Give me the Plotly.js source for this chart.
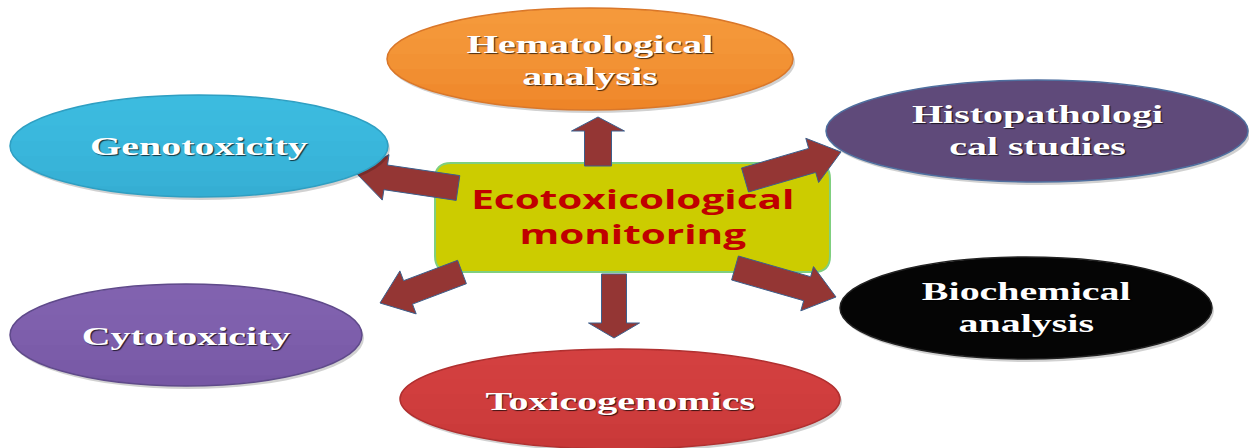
<!DOCTYPE html>
<html>
<head>
<meta charset="utf-8">
<script src="https://cdn.plot.ly/plotly-3.0.1.min.js"></script>
<style>html,body{margin:0;padding:0;background:#fff;}#chart{width:1249px;height:448px;}</style>
</head>
<body>
<div id="chart"></div>
<script>
// ---- content ----
const centerLabel = 'Ecotoxicological<br>monitoring';
const nodeLabels = ['Hematological<br>analysis', 'Genotoxicity', 'Histopathologi<br>cal studies',
                    'Cytotoxicity', 'Toxicogenomics', 'Biochemical<br>analysis'];

// ---- geometry (diagram layout, pixel-like axis units) ----
const nodeCx = [590, 199, 1037, 186, 620, 1026];
const nodeCy = [59, 146, 131, 335, 399, 308];
const nodeRx = [203, 189, 211, 176, 220, 186];
const nodeRy = [51, 51, 51, 51, 50, 51];
const nodeFill = ['#ee8528', '#35aed3', '#5f4a7a', '#7657a4', '#c83838', '#050505'];
const nodeTop  = ['#fba445', '#42c4e8', '#5f4a7a', '#8868b6', '#de4848', '#050505'];
const nodeLine = ['#d9772a', '#2f9fc2', '#4f6f9f', '#5f4a8a', '#b03030', '#222222'];
const labelCy = [61, 146, 131, 336, 401, 308];

const box = {x0: 435, x1: 830, y0: 163, y1: 272, r: 16};

// arrows: tail -> tip
const arrowTailX = [598, 614, 458, 745, 462, 735];
const arrowTailY = [166, 274, 188, 180, 272, 268];
const arrowTipX  = [598, 614, 356, 841, 380, 836];
const arrowTipY  = [117, 338, 173, 152, 303, 297];
const arrowShaftW = [27, 25, 25, 25, 25, 25];
const arrowHeadW  = [53, 51, 46, 46, 46, 46];
const arrowHeadL  = [14, 15, 30, 30, 30, 30];

function arrowPath(tx, ty, px, py, sw, hw, hl) {
  const dx = px - tx, dy = py - ty;
  const L = Math.hypot(dx, dy);
  const ux = dx / L, uy = dy / L;
  const nx = -uy, ny = ux;
  const bx = px - ux * hl, by = py - uy * hl;
  const p = [
    [tx + nx * sw / 2, ty + ny * sw / 2],
    [bx + nx * sw / 2, by + ny * sw / 2],
    [bx + nx * hw / 2, by + ny * hw / 2],
    [px, py],
    [bx - nx * hw / 2, by - ny * hw / 2],
    [bx - nx * sw / 2, by - ny * sw / 2],
    [tx - nx * sw / 2, ty - ny * sw / 2]
  ];
  return 'M' + p.map(q => q[0].toFixed(1) + ',' + q[1].toFixed(1)).join(' L') + ' Z';
}

function roundRect(b) {
  const {x0, x1, y0, y1, r} = b;
  return `M${x0 + r},${y0} L${x1 - r},${y0} Q${x1},${y0} ${x1},${y0 + r} L${x1},${y1 - r} Q${x1},${y1} ${x1 - r},${y1} ` +
         `L${x0 + r},${y1} Q${x0},${y1} ${x0},${y1 - r} L${x0},${y0 + r} Q${x0},${y0} ${x0 + r},${y0} Z`;
}

// part of the ellipse above a horizontal cut (for a stepped top-light gradient)
function upperCap(cx, cy, rx, ry, cutFromTop) {
  const yc = cy - ry + 2 * ry * cutFromTop;
  const t0 = Math.asin(Math.max(-1, Math.min(1, (cy - yc) / ry)));
  const pts = [];
  for (let k = 0; k <= 48; k++) {
    const t = t0 + (Math.PI - 2 * t0) * k / 48;
    pts.push([cx + rx * Math.cos(t), cy - ry * Math.sin(t)]);
  }
  return 'M' + pts.map(q => q[0].toFixed(1) + ',' + q[1].toFixed(1)).join(' L') + ' Z';
}
const bandCuts = [0.15, 0.3, 0.45, 0.6, 0.75, 0.9];

const shapes = [];
shapes.push({type: 'path', xref: 'x', yref: 'y', path: roundRect(box),
  fillcolor: '#cccc00', line: {color: '#7fcf7f', width: 2}});
for (let i = 0; i < arrowTailX.length; i++) {
  shapes.push({type: 'path', xref: 'x', yref: 'y',
    path: arrowPath(arrowTailX[i], arrowTailY[i], arrowTipX[i], arrowTipY[i], arrowShaftW[i], arrowHeadW[i], arrowHeadL[i]),
    fillcolor: '#943634', line: {color: '#3c5f8c', width: 1}});
}
for (let i = 0; i < nodeLabels.length; i++) {
  shapes.push({type: 'circle', xref: 'x', yref: 'y',
    x0: nodeCx[i] - nodeRx[i] + 2, x1: nodeCx[i] + nodeRx[i] + 2,
    y0: nodeCy[i] - nodeRy[i] + 3, y1: nodeCy[i] + nodeRy[i] + 3,
    fillcolor: 'rgba(0,0,0,0.18)', line: {width: 0}});
  shapes.push({type: 'circle', xref: 'x', yref: 'y',
    x0: nodeCx[i] - nodeRx[i], x1: nodeCx[i] + nodeRx[i],
    y0: nodeCy[i] - nodeRy[i], y1: nodeCy[i] + nodeRy[i],
    fillcolor: nodeFill[i], line: {width: 0}});
  if (nodeTop[i] !== nodeFill[i]) {
    bandCuts.forEach(c => {
      shapes.push({type: 'path', xref: 'x', yref: 'y',
        path: upperCap(nodeCx[i], nodeCy[i], nodeRx[i] - 0.5, nodeRy[i] - 0.5, c),
        fillcolor: nodeTop[i], opacity: 0.17, line: {width: 0}});
    });
  }
  shapes.push({type: 'circle', xref: 'x', yref: 'y',
    x0: nodeCx[i] - nodeRx[i], x1: nodeCx[i] + nodeRx[i],
    y0: nodeCy[i] - nodeRy[i], y1: nodeCy[i] + nodeRy[i],
    fillcolor: 'rgba(0,0,0,0)', line: {color: nodeLine[i], width: 1.5}});
}

const annotations = [];
annotations.push({x: (box.x0 + box.x1) / 2, y: 216, xref: 'x', yref: 'y', text: '<b>' + centerLabel + '</b>',
  showarrow: false, align: 'center',
  font: {family: 'Open Sans, sans-serif', size: 27, color: '#c00000'}});
for (let i = 0; i < nodeLabels.length; i++) {
  annotations.push({x: nodeCx[i], y: labelCy[i], xref: 'x', yref: 'y', text: '<b>' + nodeLabels[i] + '</b>',
    showarrow: false, align: 'center',
    font: {family: 'Liberation Serif, Times New Roman, serif', size: 25, color: '#ffffff',
           shadow: '1px 1px 1px rgba(0,0,0,0.7)'}});
}

const layout = {
  width: 1249, height: 448,
  margin: {l: 0, r: 0, t: 0, b: 0},
  paper_bgcolor: '#ffffff', plot_bgcolor: '#ffffff',
  xaxis: {range: [0, 1249], visible: false, fixedrange: true},
  yaxis: {range: [448, 0], visible: false, fixedrange: true},
  showlegend: false,
  shapes: shapes,
  annotations: annotations
};

// horizontal stretch of the label text, as in the reference
const stretch = [1.5, 1.6, 1.6, 1.6, 1.6, 1.6, 1.6];

Plotly.newPlot('chart', [{x: [], y: [], type: 'scatter', mode: 'markers', hoverinfo: 'skip'}], layout,
  {displayModeBar: false, staticPlot: true}).then(gd => {
  const texts = gd.querySelectorAll('.annotation-text');
  texts.forEach((t, i) => {
    const bb = t.getBBox();
    const cx = bb.x + bb.width / 2;
    const s = stretch[i] || 1.6;
    t.setAttribute('transform', `translate(${cx},0) scale(${s},1) translate(${-cx},0)`);
  });
});
</script>
</body>
</html>
